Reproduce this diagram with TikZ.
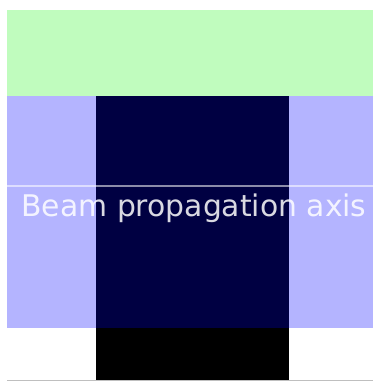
\documentclass[tikz,border=0pt]{standalone}
\usepackage{fontspec}
\setmainfont{DejaVu Sans}
\definecolor{lgreen}{RGB}{192,252,190}
\definecolor{lblue}{RGB}{180,180,255}
\definecolor{navy}{RGB}{0,0,66}
\begin{document}
\begin{tikzpicture}[x=1pt,y=-1pt,
  region/.style={draw=none},
  axislabel/.style={text=white,text opacity=0.85,font=\fontsize{29.8}{35}\selectfont,inner sep=0pt,anchor=base}]
\useasboundingbox[fill=white] (0,0) rectangle (373,381);
\fill[lgreen] (7,10) rectangle (373,96);
\fill[lblue] (7,96) rectangle (373,328);
\fill[navy] (96,96) rectangle (289,328);
\fill[black] (96,328) rectangle (289,381);
\draw[gray!50,line width=0.8pt] (7,380.5) -- (373,380.5);
\draw[white,opacity=0.55,line width=1.2pt] (7,186) -- (373,186);
\node[axislabel] (lbl) at (194,216) {Beam propagation axis};
\end{tikzpicture}
\end{document}
